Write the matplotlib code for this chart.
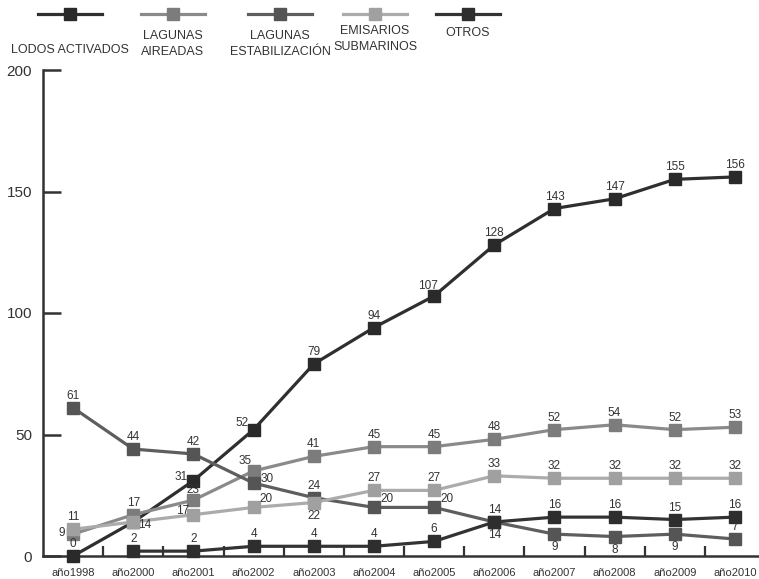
import matplotlib.pyplot as plt
from matplotlib.lines import Line2D

FONT = ['Liberation Sans', 'DejaVu Sans']
plt.rcParams['font.family'] = FONT

years = ['año1998', 'año2000', 'año2001', 'año2002', 'año2003', 'año2004',
         'año2005', 'año2006', 'año2007', 'año2008', 'año2009', 'año2010']

lodos = [0, 14, 31, 52, 79, 94, 107, 128, 143, 147, 155, 156]
aireadas = [9, 17, 23, 35, 41, 45, 45, 48, 52, 54, 52, 53]
estabilizacion = [61, 44, 42, 30, 24, 20, 20, 14, 9, 8, 9, 7]
emisarios = [11, 14, 17, 20, 22, 27, 27, 33, 32, 32, 32, 32]
otros = [None, 2, 2, 4, 4, 4, 6, 14, 16, 16, 15, 16]

names = ['LODOS ACTIVADOS', 'LAGUNAS\nAIREADAS', 'LAGUNAS\nESTABILIZACIÓN',
         'EMISARIOS\nSUBMARINOS', 'OTROS']
series = [lodos, aireadas, estabilizacion, emisarios, otros]
colors = ['#2f2f2f', '#8a8a8a', '#5e5e5e', '#ababab', '#333333']
mcolors = ['#2a2a2a', '#7c7c7c', '#555555', '#a0a0a0', '#2e2e2e']

# label offsets in pixels (default: centred above the marker)
offsets = {
    (0, 1): (11, -3), (0, 2): (-12, 4), (0, 3): (-12, 7), (0, 6): (-6, 10),
    (1, 0): (-11, 1), (1, 2): (0, 10), (1, 3): (-8, 10),
    (2, 3): (14, 4), (2, 5): (13, 8), (2, 6): (13, 8), (2, 7): (0, -13),
    (2, 8): (0, -13), (2, 9): (0, -13), (2, 10): (0, -13),
    (3, 2): (-11, 4), (3, 3): (12, 8), (3, 4): (0, -13),
}
hidden = {(3, 1)}

fig = plt.figure(figsize=(7.59, 5.79), dpi=100)
ax = fig.add_axes([43 / 759, 23 / 579, 1 - 43 / 759, 486 / 579])

x = list(range(len(years)))
for k, (vals, c, mc) in enumerate(zip(series, colors, mcolors)):
    xs = [xi for xi, v in zip(x, vals) if v is not None]
    ys = [v for v in vals if v is not None]
    ax.plot(xs, ys, color=c, lw=2.3, marker='s', ms=8, mfc=mc, mec=mc,
            clip_on=False, zorder=3)
    for xi, v in zip(xs, ys):
        i = x.index(xi)
        if (k, i) in hidden:
            continue
        dx, dy = offsets.get((k, i), (0, 12))
        ax.annotate(str(v), (xi, v), xytext=(dx, dy), textcoords='offset pixels',
                    ha='center', va='center', fontsize=8.5, color='#333333',
                    zorder=4)

ax.set_xlim(-0.5, 11.4)
ax.set_ylim(0, 200)
ax.set_yticks([0, 50, 100, 150, 200])
ax.set_xticks(x)
ax.set_xticklabels(years, fontsize=8, color='#333333')
ax.set_xticks([i + 0.5 for i in range(11)], minor=True)
ax.tick_params(axis='x', which='major', length=0, pad=9)
ax.tick_params(axis='x', which='minor', direction='in', length=7, width=1.6,
               color='#333333')
ax.tick_params(axis='y', direction='in', length=13, width=1.8, color='#333333',
               labelsize=11, labelcolor='#333333', pad=8)
for s in ['top', 'right']:
    ax.spines[s].set_visible(False)
for s in ['left', 'bottom']:
    ax.spines[s].set_linewidth(1.8)
    ax.spines[s].set_color('#333333')

# legend drawn across the top
lg = fig.add_axes([0, 0, 1, 1], facecolor='none')
lg.set_xlim(0, 759)
lg.set_ylim(579, 0)
lg.axis('off')
centers = [70, 173, 280, 375, 468]
text_y = [50, 44, 44, 39, 33]
for cx, ty, name, c, mc in zip(centers, text_y, names, colors, mcolors):
    lg.add_line(Line2D([cx - 32, cx + 32], [14, 14], color=c, lw=2.3))
    lg.add_line(Line2D([cx], [14], marker='s', ms=8, mfc=mc, mec=mc))
    lg.text(cx, ty, name, ha='center', va='center', fontsize=9,
            color='#333333', linespacing=1.35)

fig.savefig('out.png', dpi=100)
